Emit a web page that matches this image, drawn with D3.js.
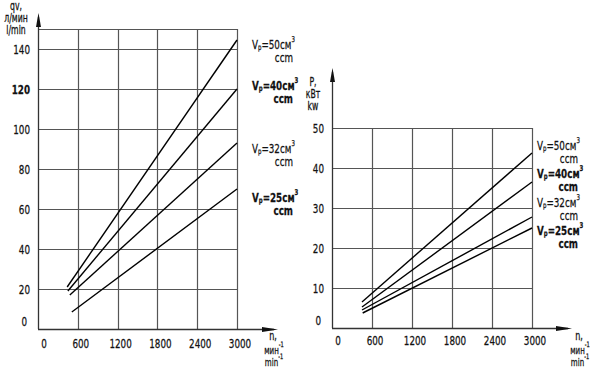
<!DOCTYPE html>
<html>
<head>
<meta charset="utf-8">
<script src="https://cdn.jsdelivr.net/npm/d3@7"></script>
<style>
  body { margin: 0; background: #fff; }
  text { font-family: "DejaVu Sans Condensed", "DejaVu Sans", sans-serif; font-stretch: condensed; fill: #111; stroke: #111; stroke-width: 0.25; }
</style>
</head>
<body>
<svg id="chart"></svg>
<script>
// data
const nTicks = [0, 600, 1200, 1800, 2400, 3000];
const qTicks = [0, 20, 40, 60, 80, 100, 120, 140];
const pTicks = [0, 10, 20, 30, 40, 50];
const displacements = [50, 40, 32, 25];
const nEnd = 3000;
// flow chart (l/min)
const qnStart = [440, 450, 480, 510];
const qStart = [21, 19, 17, 8.5];
const qEnd = [144.5, 120, 93, 70];
// power chart (kW)
const pnStart = [450, 450, 450, 460];
const pStart = [6.5, 5.25, 4.5, 3.75];
const pEnd = [43.75, 36.5, 27.75, 25];

const width = 600;
const height = 372;
const boldLabels = [false, true, false, true];
const fs = 13;
const squeeze = 0.75; // the drawing font is very narrow

const svg = d3.select("#chart").attr("width", width).attr("height", height);

const xL = d3.scaleLinear().domain([0, 3000]).range([38, 237]);
const yL = d3.scaleLinear().domain([0, 150]).range([329, 29]);
const xR = d3.scaleLinear().domain([0, 3000]).range([332, 532]);
const yR = d3.scaleLinear().domain([0, 50]).range([328, 128]);

// narrow text placed at (x, y)
function txt(parent, x, y, anchor, size) {
  return parent.append("text")
    .attr("transform", `translate(${x},${y}) scale(${squeeze},1)`)
    .attr("text-anchor", anchor)
    .attr("dominant-baseline", "central")
    .attr("font-size", size);
}

function arrowUp(x, tip) {
  svg.append("path")
    .attr("d", `M${x},${tip}L${x - 2.5},${tip + 14}L${x + 2.5},${tip + 14}Z`)
    .attr("fill", "#111");
}
function arrowRight(tip, y) {
  svg.append("path")
    .attr("d", `M${tip},${y}L${tip - 16},${y - 2.5}L${tip - 16},${y + 2.5}Z`)
    .attr("fill", "#111");
}

function drawPanel(x, y, yTicks, yMax, yTipPx, xTipPx, yLabelRight, cfg) {
  const g = svg.append("g");
  const x0 = x.range()[0], x1 = x.range()[1];
  const y0 = y.range()[0], y1 = y.range()[1];

  // grid
  g.selectAll(".hgrid")
    .data(yTicks.filter((d) => d > 0).concat([yMax]))
    .join("line")
    .attr("x1", x0).attr("x2", x1)
    .attr("y1", (d) => Math.round(y(d)) + 0.5)
    .attr("y2", (d) => Math.round(y(d)) + 0.5)
    .attr("stroke", "#555").attr("stroke-width", 1.2);
  g.selectAll(".vgrid")
    .data(nTicks.filter((d) => d > 0))
    .join("line")
    .attr("x1", (d) => Math.round(x(d)) + 0.5)
    .attr("x2", (d) => Math.round(x(d)) + 0.5)
    .attr("y1", y1).attr("y2", y0)
    .attr("stroke", "#555").attr("stroke-width", 1.2);

  // axes
  g.append("line")
    .attr("x1", x0 + 0.5).attr("x2", x0 + 0.5)
    .attr("y1", y0).attr("y2", yTipPx + 4)
    .attr("stroke", "#333").attr("stroke-width", 1.3);
  g.append("line")
    .attr("x1", x0).attr("x2", xTipPx - 4)
    .attr("y1", y0 + 0.5).attr("y2", y0 + 0.5)
    .attr("stroke", "#333").attr("stroke-width", 1.3);
  arrowUp(x0 + 0.5, yTipPx);
  arrowRight(xTipPx, y0 + 0.5);

  // tick labels
  yTicks.forEach((d) => {
    txt(g, d === 0 ? yLabelRight - 3 : yLabelRight, d === 0 ? y(d) - 8 : y(d), "end", fs)
      .attr("font-weight", cfg.boldTick === d ? "bold" : "normal")
      .text(d);
  });
  nTicks.forEach((d) => {
    txt(g, x(d) + (d === 0 ? 6 : 3), y0 + cfg.xLabDy, "middle", fs).text(d);
  });

  // curves
  const line = d3.line().x((d) => x(d[0])).y((d) => y(d[1]));
  g.selectAll(".curve")
    .data(displacements.map((v, i) => [[cfg.nStart[i], cfg.start[i]], [nEnd, cfg.end[i]]]))
    .join("path")
    .attr("d", line)
    .attr("fill", "none")
    .attr("stroke", "#000")
    .attr("stroke-width", 1.4);

  // curve labels
  displacements.forEach((v, i) => {
    const ly = y(cfg.end[i]) + cfg.labelDy[i];
    const w = boldLabels[i] ? "bold" : "normal";
    const t = txt(g, cfg.labelX, ly, "start", fs).attr("font-weight", w);
    t.append("tspan").text("V");
    t.append("tspan").attr("font-size", 8).attr("dy", 3).text("p");
    t.append("tspan").attr("dy", -3).text(`=${v}см`);
    t.append("tspan").attr("font-size", 8).attr("dy", -5).text("3");
    txt(g, cfg.labelX + 41, ly + 13, "end", fs).attr("font-weight", w).text("ccm");
  });

  // axis titles
  cfg.yTitle.forEach((s, i) => {
    txt(g, cfg.yTitleX, cfg.yTitleY + i * 12, "middle", 11.5).text(s);
  });
  txt(g, cfg.xTitleX, cfg.xTitleY, "middle", 12).text("n,");
  ["мин", "min"].forEach((s, i) => {
    const t = txt(g, cfg.xTitleX + 1, cfg.xTitleY + 14 + i * 12, "middle", 10.5);
    t.append("tspan").text(s);
    t.append("tspan").attr("font-size", 7.5).attr("dy", -4).text("-1");
  });
}

drawPanel(xL, yL, qTicks, 150, 13, 278, 30, {
  nStart: qnStart, start: qStart, end: qEnd,
  labelX: 252, labelDy: [4, -4, 5, 8],
  boldTick: 120, xLabDy: 14,
  yTitle: ["qv,", "л/мин", "l/min"], yTitleX: 16, yTitleY: 6,
  xTitleX: 273, xTitleY: 335,
});
drawPanel(xR, yR, pTicks, 50, 68, 572, 324, {
  nStart: pnStart, start: pStart, end: pEnd,
  labelX: 537, labelDy: [-8, -9, -15, 2],
  boldTick: null, xLabDy: 12,
  yTitle: ["P,", "кВт", "kw"], yTitleX: 313, yTitleY: 82,
  xTitleX: 579, xTitleY: 335,
});
</script>
</body>
</html>
